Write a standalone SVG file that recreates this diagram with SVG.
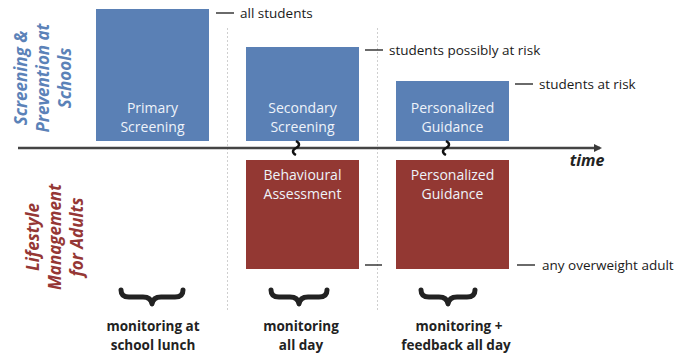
<svg xmlns="http://www.w3.org/2000/svg" width="694" height="356" viewBox="0 0 694 356">
<defs>
<style>
.blue{fill:#5a80b5}
.red{fill:#933833}
.bt{font-family:"Open Sans","Liberation Sans",sans-serif;font-size:14px;fill:#eef3fa;text-anchor:middle}
.lbl{font-family:"Open Sans","Liberation Sans",sans-serif;font-size:13.5px;fill:#1a1a1a}
.tick{stroke:#1a1a1a;stroke-width:1.3}
.sep{stroke:#cfcfcf;stroke-width:1;stroke-dasharray:2 2}
.brace{fill:none;stroke:#222;stroke-width:5;stroke-linecap:round;stroke-linejoin:round}
.bot{font-family:"Open Sans","Liberation Sans",sans-serif;font-size:13.5px;font-weight:bold;fill:#222;text-anchor:middle}
.side{font-family:"Open Sans","Liberation Sans",sans-serif;font-size:17px;font-weight:bold;font-style:italic;text-anchor:middle}
</style>
<marker id="arr" markerWidth="8" markerHeight="8" refX="6" refY="4" orient="auto" markerUnits="userSpaceOnUse">
<path d="M0,0 L8,4 L0,8 z" fill="#3a3a3a"/>
</marker>
</defs>
<rect width="694" height="356" fill="#fff"/>
<g id="separators">
<line class="sep" x1="227.5" y1="28" x2="227.5" y2="310"/>
<line class="sep" x1="377.5" y1="28" x2="377.5" y2="310"/>
</g>
<g id="side-labels">
<text class="side" fill="#5b82b8" transform="translate(43,78) rotate(-90)"><tspan x="0" y="-16">Screening &amp;</tspan><tspan x="0" y="6">Prevention at</tspan><tspan x="0" y="28">Schools</tspan></text>
<text class="side" fill="#953735" transform="translate(55,237) rotate(-90)"><tspan x="0" y="-16">Lifestyle</tspan><tspan x="0" y="6">Management</tspan><tspan x="0" y="28">for Adults</tspan></text>
</g>
<g id="primary">
<rect class="blue" x="96" y="9" width="113" height="132"/>
<text class="bt"><tspan x="152.5" y="113">Primary</tspan><tspan x="152.5" y="132">Screening</tspan></text>
</g>
<g id="secondary">
<rect class="blue" x="246" y="47" width="113" height="94"/>
<text class="bt"><tspan x="302.5" y="113">Secondary</tspan><tspan x="302.5" y="132">Screening</tspan></text>
</g>
<g id="guidance-top">
<rect class="blue" x="396" y="81" width="113" height="60"/>
<text class="bt"><tspan x="452.5" y="113">Personalized</tspan><tspan x="452.5" y="132">Guidance</tspan></text>
</g>
<g id="behavioural">
<rect class="red" x="246" y="160" width="113" height="109"/>
<text class="bt"><tspan x="302.5" y="180">Behavioural</tspan><tspan x="302.5" y="199">Assessment</tspan></text>
</g>
<g id="guidance-bottom">
<rect class="red" x="396" y="160" width="113" height="109"/>
<text class="bt"><tspan x="452.5" y="180">Personalized</tspan><tspan x="452.5" y="199">Guidance</tspan></text>
</g>
<g id="connectors">
<line x1="18" y1="148" x2="600" y2="148" stroke="#444" stroke-width="2.5" marker-end="url(#arr)"/>
<path d="M296,141 c4,2 4,5 0,7 c-4,2 -4,5 0,7" fill="none" stroke="#111" stroke-width="2.5"/>
<path d="M446,141 c4,2 4,5 0,7 c-4,2 -4,5 0,7" fill="none" stroke="#111" stroke-width="2.5"/>
<line class="tick" x1="216" y1="13" x2="234" y2="13"/>
<line class="tick" x1="365" y1="50" x2="383" y2="50"/>
<line class="tick" x1="515" y1="84" x2="533" y2="84"/>
<line class="tick" x1="365" y1="265" x2="382" y2="265"/>
<line class="tick" x1="517" y1="265" x2="535" y2="265"/>
</g>
<g id="labels">
<text class="lbl" x="240" y="18">all students</text>
<text class="lbl" x="389" y="55">students possibly at risk</text>
<text class="lbl" x="539" y="89">students at risk</text>
<text class="lbl" x="542" y="270">any overweight adult</text>
<text x="587" y="166" font-family="'Open Sans','Liberation Sans',sans-serif" font-size="16" font-weight="bold" font-style="italic" fill="#222" text-anchor="middle">time</text>
</g>
<g id="braces">
<path class="brace" d="M121,290 q0,7 8,7 h14 q8,0 9,7 q1,-7 9,-7 h14 q8,0 8,-7"/>
<path class="brace" d="M271,290 q0,7 8,7 h11 q8,0 9,7 q1,-7 9,-7 h11 q8,0 8,-7"/>
<path class="brace" d="M421,290 q0,7 8,7 h10 q8,0 9,7 q1,-7 9,-7 h10 q8,0 8,-7"/>
</g>
<g id="bottom-labels">
<text class="bot"><tspan x="153" y="331">monitoring at</tspan><tspan x="153" y="350">school lunch</tspan></text>
<text class="bot"><tspan x="301" y="331">monitoring</tspan><tspan x="301" y="350">all day</tspan></text>
<text class="bot"><tspan x="459" y="331">monitoring +</tspan><tspan x="456" y="350">feedback all day</tspan></text>
</g>
</svg>
